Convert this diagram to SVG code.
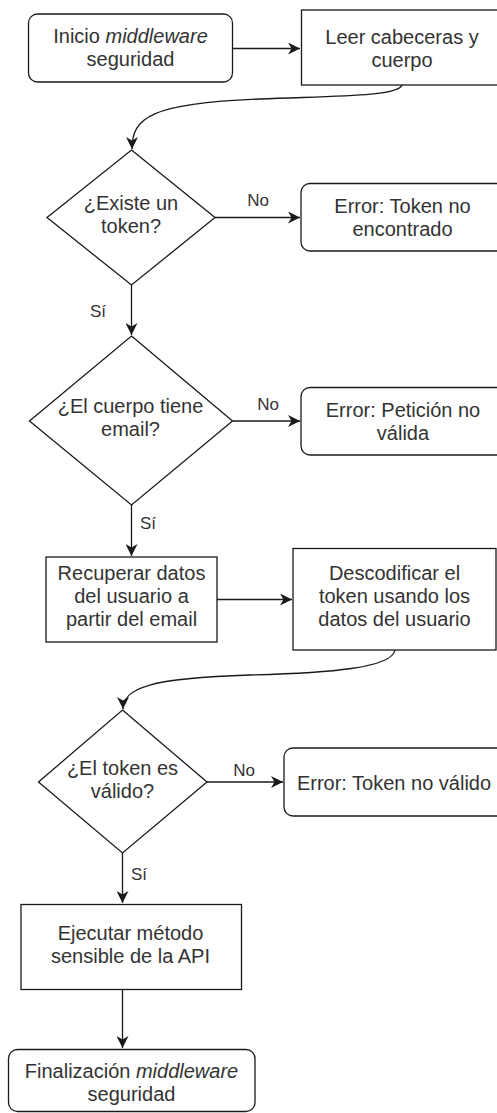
<svg xmlns="http://www.w3.org/2000/svg" width="497" height="1113" viewBox="0 0 497 1113">
<style>
.shape{fill:#fff;stroke:#1a1a1a;stroke-width:1.3}
.t{font-family:"Liberation Sans",Arial,sans-serif;font-size:20px;fill:#333;text-anchor:middle}
.lbl{font-family:"Liberation Sans",Arial,sans-serif;font-size:17px;fill:#333;text-anchor:middle}
.edge{fill:none;stroke:#1a1a1a;stroke-width:1.3;marker-end:url(#arr)}
</style>
<defs>
<marker id="arr" markerUnits="userSpaceOnUse" markerWidth="14" markerHeight="12" refX="12" refY="6" orient="auto">
<path d="M0,0 L12,6 L0,12 L3.5,6 z" fill="#1a1a1a"/>
</marker>
</defs>
<rect width="497" height="1113" fill="#fff"/>
<g id="connectors">
<path class="edge" d="M233,48.5 L300,48.5"/>
<path class="edge" d="M402,85 C398,97 330,96 260,99 C150,103 132,118 132,149"/>
<path class="edge" d="M215,217.5 L300,217.5"/>
<text class="lbl" x="258" y="206">No</text>
<path class="edge" d="M131.5,285 L131.5,335"/>
<text class="lbl" x="98" y="317">Sí</text>
<path class="edge" d="M232.5,421 L300,421"/>
<text class="lbl" x="268" y="410">No</text>
<path class="edge" d="M131.5,505 L131.5,556"/>
<text class="lbl" x="148" y="529">Sí</text>
<path class="edge" d="M217,599.5 L292,599.5"/>
<path class="edge" d="M395,650 C392,668 330,673 250,675 C150,678 123,688 123,709"/>
<path class="edge" d="M207,782 L283,782"/>
<text class="lbl" x="244" y="776">No</text>
<path class="edge" d="M122.5,853 L122.5,903"/>
<text class="lbl" x="139" y="880">Sí</text>
<path class="edge" d="M122.5,989 L122.5,1048"/>
</g>
<g id="start">
<rect class="shape" x="28.5" y="14" width="204" height="68" rx="9"/>
<text class="t" x="130.5" y="43">Inicio <tspan font-style="italic">middleware</tspan></text>
<text class="t" x="130.5" y="66">seguridad</text>
</g>
<g id="leer">
<rect class="shape" x="301.5" y="10" width="205" height="75"/>
<text class="t" x="402" y="44">Leer cabeceras y</text>
<text class="t" x="402" y="67">cuerpo</text>
</g>
<g id="d1">
<polygon class="shape" points="131.5,150 215,217.5 131.5,285 47,217.5"/>
<text class="t" x="131" y="210">¿Existe un</text>
<text class="t" x="131" y="233">token?</text>
</g>
<g id="err1">
<rect class="shape" x="301" y="183.5" width="210" height="67.5" rx="9"/>
<text class="t" x="402.5" y="213">Error: Token no</text>
<text class="t" x="402.5" y="236">encontrado</text>
</g>
<g id="d2">
<polygon class="shape" points="131.5,336 232.5,421 131.5,505 29.5,421"/>
<text class="t" x="130.5" y="413">¿El cuerpo tiene</text>
<text class="t" x="130.5" y="436">email?</text>
</g>
<g id="err2">
<rect class="shape" x="301" y="387.5" width="210" height="67.5" rx="9"/>
<text class="t" x="403" y="417">Error: Petición no</text>
<text class="t" x="403" y="440">válida</text>
</g>
<g id="recuperar">
<rect class="shape" x="46" y="557" width="171" height="85"/>
<text class="t" x="131.5" y="580">Recuperar datos</text>
<text class="t" x="131.5" y="603">del usuario a</text>
<text class="t" x="131.5" y="626">partir del email</text>
</g>
<g id="descodificar">
<rect class="shape" x="293" y="548.5" width="203" height="101.5"/>
<text class="t" x="394.5" y="580">Descodificar el</text>
<text class="t" x="394.5" y="603">token usando los</text>
<text class="t" x="394.5" y="626">datos del usuario</text>
</g>
<g id="d3">
<polygon class="shape" points="122.5,710 207,782 122.5,853 38.5,782"/>
<text class="t" x="122.5" y="775">¿El token es</text>
<text class="t" x="122.5" y="798">válido?</text>
</g>
<g id="err3">
<rect class="shape" x="284" y="748" width="225" height="68" rx="9"/>
<text class="t" x="394" y="790">Error: Token no válido</text>
</g>
<g id="ejecutar">
<rect class="shape" x="21" y="904.5" width="220.5" height="85"/>
<text class="t" x="130.5" y="940">Ejecutar método</text>
<text class="t" x="130.5" y="963">sensible de la API</text>
</g>
<g id="fin">
<rect class="shape" x="8.5" y="1049.5" width="246.5" height="62" rx="9"/>
<text class="t" x="131.5" y="1078">Finalización <tspan font-style="italic">middleware</tspan></text>
<text class="t" x="131.5" y="1101">seguridad</text>
</g>
</svg>
